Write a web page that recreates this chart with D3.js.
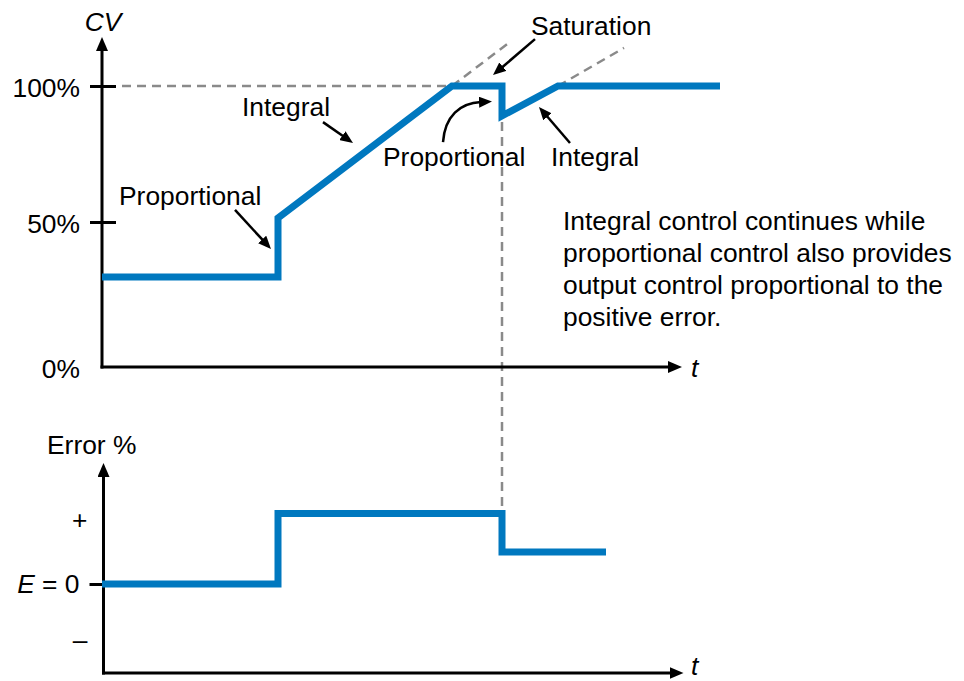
<!DOCTYPE html>
<html><head><meta charset="utf-8">
<script src="https://cdn.jsdelivr.net/npm/d3@7"></script>
<style>
body{margin:0;background:#fff;}
svg text{font-family:"Liberation Sans",Arial,Helvetica,sans-serif;fill:#000;}
</style>
</head><body><svg id="c" width="964" height="681"></svg>
<script>
// ---- data ----
const cvTime  = [0, 17.6, 17.6, 35, 40, 40, 45.6, 61.8];
const cvValue = [31, 31, 51.5, 100, 100, 89, 100, 100];
const cvTicks = [0, 50, 100];
const cvTickLabels = ["0%", "50%", "100%"];

const errTime  = [0, 17.6, 17.6, 40, 40, 50.4];
const errValue = [0, 0, 1.1, 1.1, 0.5, 0.5];
const errTicks = [-1, 0, 1];
const errTickLabels = ["\u2013", "E = 0", "+"];

const rampProjTime  = [35, 40.8];
const rampProjValue = [100, 116.2];
const recProjTime   = [45.6, 52.2];
const recProjValue  = [100, 114];

// annotations: tip (t, value), tail offset px
const notes = [
  {tipT: 16.9, tipV: 40.7, dx: -36, dy: -39},
  {tipT: 25.1, tipV: 79,   dx: -30, dy: -21},
  {tipT: 39.1, tipV: 104,  dx: 42,  dy: -36},
  {tipT: 43.7, tipV: 92.3, dx: 31,  dy: 36}
];
const labels = [
  {text: "Proportional", x: 119, y: 205},
  {text: "Integral", x: 242, y: 116},
  {text: "Saturation", x: 531, y: 35},
  {text: "Proportional", x: 383, y: 166},
  {text: "Integral", x: 551, y: 166}
];
const paragraph = [
  "Integral control continues while",
  "proportional control also provides",
  "output control proportional to the",
  "positive error."
];

// ---- scales ----
const svg = d3.select("#c");
const FONT = '"Liberation Sans",Arial,Helvetica,sans-serif';
const FS = 26.4;
const x = d3.scaleLinear().domain([0, 58]).range([102, 682]);
const yCV = d3.scaleLinear().domain([0, 50, 100]).range([367, 222, 86]);
const yErr = d3.scaleLinear().domain([-1.6, -1, 0, 1]).range([673, 640, 584, 520]);
const BLUE = "#0078bf";
const GRAY = "#8a8a8a";

// ---- markers ----
const defs = svg.append("defs");
defs.append("marker").attr("id", "ah").attr("markerUnits", "userSpaceOnUse")
  .attr("viewBox", "0 0 13 11").attr("markerWidth", 13).attr("markerHeight", 11)
  .attr("refX", 2).attr("refY", 5.5).attr("orient", "auto")
  .append("path").attr("d", "M0,0 L13,5.5 L0,11 Z").attr("fill", "#000");
defs.append("marker").attr("id", "axh").attr("markerUnits", "userSpaceOnUse")
  .attr("viewBox", "0 0 14 12").attr("markerWidth", 14).attr("markerHeight", 12)
  .attr("refX", 2).attr("refY", 6).attr("orient", "auto")
  .append("path").attr("d", "M0,0 L14,6 L0,12 Z").attr("fill", "#000");

// ---- dashed guides ----
const dash = svg.append("g").attr("stroke", GRAY).attr("stroke-width", 2.5)
  .attr("stroke-dasharray", "9,6").attr("fill", "none");
dash.append("line").attr("x1", x(0) + 20).attr("x2", x(35))
  .attr("y1", yCV(100)).attr("y2", yCV(100));
dash.append("line").attr("x1", x(rampProjTime[0])).attr("y1", yCV(rampProjValue[0]))
  .attr("x2", x(rampProjTime[1])).attr("y2", yCV(rampProjValue[1]));
dash.append("line").attr("x1", x(recProjTime[0])).attr("y1", yCV(recProjValue[0]))
  .attr("x2", x(recProjTime[1])).attr("y2", yCV(recProjValue[1]));
dash.append("line").attr("x1", x(40)).attr("x2", x(40))
  .attr("y1", yCV(89) + 6).attr("y2", yErr(1.1));

// ---- axes ----
function axisLines(y0, topY, xOff) {
  const g = svg.append("g").attr("stroke", "#000").attr("stroke-width", 3).attr("fill", "none");
  const ax = x(0) + xOff;
  g.append("line").attr("x1", ax).attr("x2", ax).attr("y1", y0 + 1.5).attr("y2", topY + 12)
    .attr("marker-end", "url(#axh)");
  g.append("line").attr("x1", ax - 1.5).attr("x2", 682 + xOff - 12).attr("y1", y0).attr("y2", y0)
    .attr("marker-end", "url(#axh)");
}
axisLines(yCV(0), 37, 0);
axisLines(yErr(-1.6), 463, 1.5);

const gY = svg.append("g").attr("transform", `translate(${x(0)},0)`)
  .call(d3.axisLeft(yCV).tickValues(cvTicks).tickFormat((d, i) => cvTickLabels[i]).tickSize(12));
gY.attr("font-family", FONT).attr("font-size", FS);
gY.select(".domain").remove();
gY.selectAll(".tick line").attr("x1", -12).attr("x2", 14).attr("stroke", "#000").attr("stroke-width", 3);
gY.selectAll(".tick").filter(d => d === 0).select("line").remove();
gY.selectAll(".tick text").attr("x", -22).attr("dy", "0.4em").attr("fill", "#000");

const gE = svg.append("g").attr("transform", `translate(${x(0) + 1.5},0)`)
  .call(d3.axisLeft(yErr).tickValues(errTicks).tickFormat((d, i) => errTickLabels[i]).tickSize(12));
gE.attr("font-family", FONT).attr("font-size", FS);
gE.select(".domain").remove();
gE.selectAll(".tick line").attr("x1", -14).attr("x2", 12).attr("stroke", "#000").attr("stroke-width", 3);
gE.selectAll(".tick").filter(d => d !== 0).select("line").remove();
gE.selectAll(".tick text").attr("x", -16).attr("dy", "0.33em").attr("fill", "#000");
const zt = gE.selectAll(".tick").filter(d => d === 0).select("text").attr("x", -24).text(null);
zt.append("tspan").attr("font-style", "italic").text("E");
zt.append("tspan").text(" = 0");

// axis titles
svg.append("text").attr("x", x(0) + 1).attr("y", 31).attr("text-anchor", "middle")
  .attr("font-size", FS).attr("font-style", "italic").text("CV");
svg.append("text").attr("x", 47).attr("y", 454).attr("font-size", FS).text("Error %");
svg.append("text").attr("x", 691).attr("y", 377).attr("font-size", FS).attr("font-style", "italic").text("t");
svg.append("text").attr("x", 691).attr("y", 675).attr("font-size", FS).attr("font-style", "italic").text("t");

// ---- blue series ----
const lineCV = d3.line().x((d, i) => x(cvTime[i])).y(d => yCV(d));
svg.append("path").attr("d", lineCV(cvValue)).attr("fill", "none").attr("stroke", BLUE)
  .attr("stroke-width", 7).attr("stroke-linejoin", "miter");
const lineErr = d3.line().x((d, i) => x(errTime[i])).y(d => yErr(d));
svg.append("path").attr("d", lineErr(errValue)).attr("fill", "none").attr("stroke", BLUE)
  .attr("stroke-width", 7).attr("stroke-linejoin", "miter");

// ---- annotations ----
const ann = svg.append("g").attr("stroke", "#000").attr("stroke-width", 2.5).attr("fill", "none");
notes.forEach(n => {
  const tx = x(n.tipT), ty = yCV(n.tipV);
  const len = Math.hypot(n.dx, n.dy);
  const ux = -n.dx / len, uy = -n.dy / len;
  ann.append("line").attr("x1", tx + n.dx).attr("y1", ty + n.dy)
    .attr("x2", tx - ux * 11).attr("y2", ty - uy * 11).attr("marker-end", "url(#ah)");
});
// curved arrow for "Proportional" near the drop
{
  const tx = x(39), ty = yCV(94.1);
  ann.append("path").attr("d", `M${tx - 49},${ty + 40} C${tx - 47},${ty + 14} ${tx - 32},${ty + 1} ${tx - 11},${ty}`)
    .attr("marker-end", "url(#ah)");
}
labels.forEach(l => svg.append("text").attr("x", l.x).attr("y", l.y).attr("font-size", FS).text(l.text));
paragraph.forEach((t, i) => svg.append("text").attr("x", 563).attr("y", 230 + i * 32)
  .attr("font-size", FS).text(t));
</script>
</body></html>
